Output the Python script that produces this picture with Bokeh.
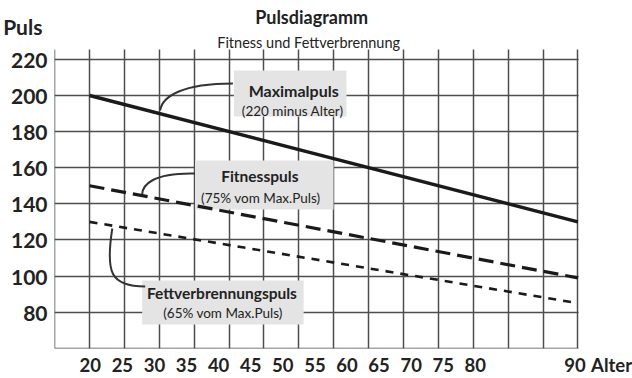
from bokeh.plotting import figure
from bokeh.models import Label, FixedTicker, Range1d
from bokeh.embed import file_html
from bokeh.resources import INLINE

# ---- data ----
ages = [20, 90]
maximalpuls = [200, 130]
fitnesspuls = [150, 99]
fettpuls = [130, 85]

y_ticks = [80, 100, 120, 140, 160, 180, 200, 220]
y_grid = [60, 80, 100, 120, 140, 160, 180, 200, 220]
x_grid = [15, 20, 25, 30, 35, 40, 45, 50, 55, 60, 65, 70, 75, 80, 85, 90]
x_tick_labels = ["20", "25", "30", "35", "40", "45", "50", "55", "60", "65", "70", "75", "80", "90"]
x_label_pos = [20.1, 24.7, 29.3, 33.9, 38.5, 43.1, 47.7, 52.3, 56.9, 61.5, 66.1, 70.7, 75.3, 89.6]
x_extent = (15, 90.15)
y_extent = (60, 225.5)

TXT = "#222222"
FONT = "Lato"

# layout: frame spans from the y-label column to the right edge, and from the top
W, H = 632, 378
FL, FB = 52, 348
SX, SY = 7.0, 1.806          # pixels per year / per beat
X0 = x_extent[0] - 0.2 / SX
Y0 = y_extent[0] - 0.2 / SY
X1 = X0 + (W - FL) / SX
Y1 = Y0 + FB / SY


def fx(px):
    return X0 + (px - FL) / SX


def fy(py):
    return Y0 + (FB - py) / SY


p = figure(width=W, height=H, output_backend="svg", toolbar_location=None,
           x_range=Range1d(X0, X1), y_range=Range1d(Y0, Y1),
           min_border_left=FL, min_border_right=0,
           min_border_top=0, min_border_bottom=H - FB)
p.outline_line_color = None
p.background_fill_color = "white"
p.border_fill_color = "white"

# grids (also serve as the chart border)
p.xgrid.ticker = FixedTicker(ticks=x_grid)
p.ygrid.ticker = FixedTicker(ticks=y_grid)
p.xgrid.cross_bounds = y_extent
p.ygrid.cross_bounds = (x_extent[0], x_extent[1])
for g in (p.xgrid, p.ygrid):
    g.grid_line_color = "#4d4d4d"
    g.grid_line_width = 1.5
    g.grid_line_alpha = 1.0

# axes
puls_pos = fy(25.5)
alter_pos = fx(611)
p.xaxis.ticker = FixedTicker(ticks=x_label_pos + [alter_pos])
ovx = {t: l for t, l in zip(x_label_pos, x_tick_labels)}
ovx[alter_pos] = "Alter"
p.xaxis.major_label_overrides = ovx
p.yaxis.ticker = FixedTicker(ticks=y_ticks + [puls_pos])
p.yaxis.major_label_overrides = {puls_pos: "Puls\u00a0"}
for ax in (p.xaxis, p.yaxis):
    ax.axis_line_color = None
    ax.major_tick_line_color = None
    ax.minor_tick_line_color = None
    ax.major_tick_out = 0
    ax.major_tick_in = 0
    ax.major_label_text_color = TXT
    ax.major_label_text_font_style = "bold"
    ax.major_label_text_font = FONT
p.xaxis.major_label_text_font_size = "18.5px"
p.yaxis.major_label_text_font_size = "21px"
p.xaxis.major_label_standoff = 5
p.yaxis.major_label_standoff = 7

# annotation boxes (behind the lines)
boxes_l = [fx(232), fx(193), fx(140)]
boxes_r = [fx(345), fx(332), fx(302)]
boxes_t = [fy(70), fy(160), fy(280)]
boxes_b = [fy(116), fy(209), fy(324)]
p.quad(left=boxes_l, right=boxes_r, top=boxes_t, bottom=boxes_b,
       fill_color="#e4e4e4", line_color=None)

# leader curves
p.bezier(x0=[fx(231), fx(193), fx(110)], y0=[fy(83), fy(173), fy(228)],
         x1=[fx(158), fx(140), fx(143)], y1=[fy(110), fy(194), fy(286)],
         cx0=[fx(180), fx(150), fx(103)], cy0=[fy(83), fy(172), fy(272)],
         cx1=[fx(160), fx(140), fx(108)], cy1=[fy(96), fy(185), fy(286)],
         line_color="#333333", line_width=2)

# lines
p.line(ages, maximalpuls, line_color="#1a1a1a", line_width=3.5)
p.line(ages, fitnesspuls, line_color="#1a1a1a", line_width=3.2, line_dash="15 7")
p.line(ages, fettpuls, line_color="#1a1a1a", line_width=2.6, line_dash="8 7")


def lab(text, px, py, size, bold=False, align="center"):
    p.add_layout(Label(x=fx(px), y=fy(py), text=text, text_align=align,
                       text_baseline="alphabetic", text_font=FONT,
                       text_font_size=size, text_color=TXT,
                       text_font_style="bold" if bold else "normal"))


# box texts
lab("Maximalpuls", 292, 90, "16px", True)
lab("(220 minus Alter)", 291, 110, "13.5px")
lab("Fitnesspuls", 258, 175, "15.5px", True)
lab("(75% vom Max.Puls)", 259, 197, "13.5px")
lab("Fettverbrennungspuls", 220, 292, "15.5px", True)
lab("(65% vom Max.Puls)", 221, 312, "13.5px")

# titles
lab("Pulsdiagramm", 310, 16, "18px", True)
lab("Fitness und Fettverbrennung", 307, 42, "14.5px")

open("out.html", "w").write(file_html(p, INLINE))
